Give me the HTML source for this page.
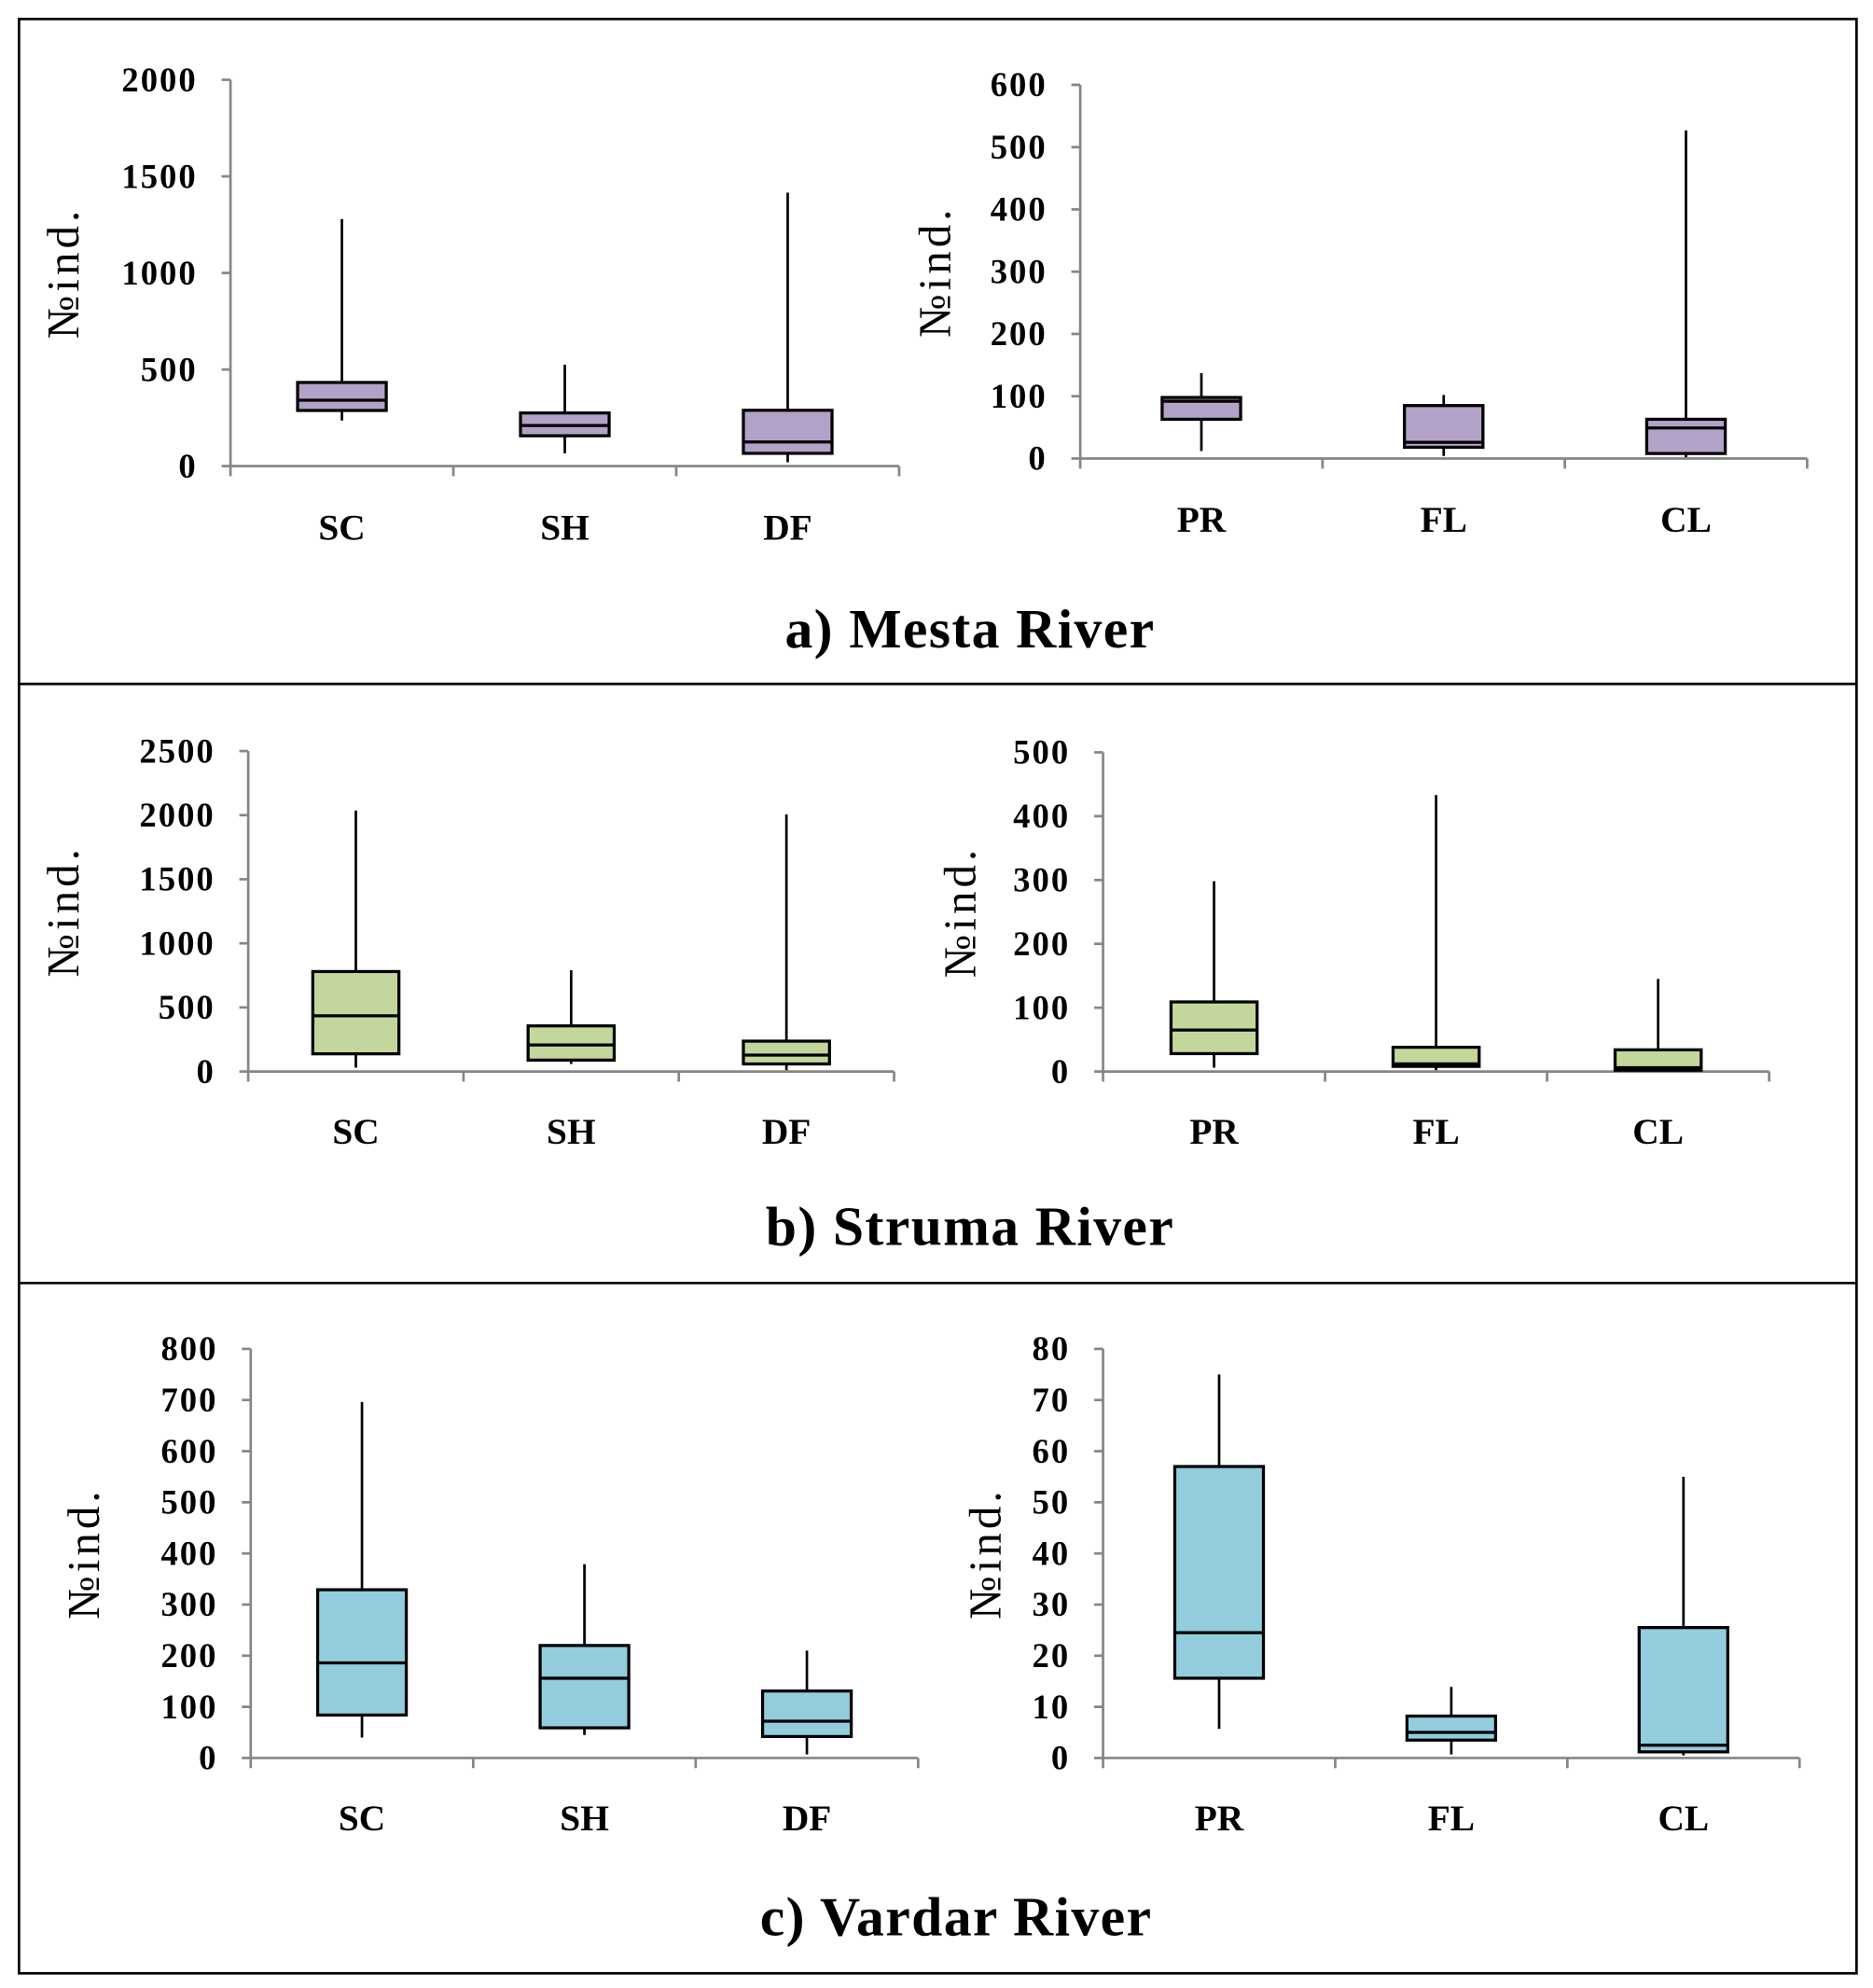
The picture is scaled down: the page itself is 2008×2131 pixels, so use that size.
<!DOCTYPE html>
<html><head><meta charset="utf-8"><style>
html,body{margin:0;padding:0;background:#fff}
svg{display:block}
text{font-family:"Liberation Serif",serif}
</style></head><body>
<svg id="fig" width="2008" height="2131" viewBox="0 0 1479 1569.6" xmlns="http://www.w3.org/2000/svg">
<rect x="15" y="15" width="1451" height="1543" fill="#fff" stroke="#000" stroke-width="2"/>
<line x1="15" y1="540" x2="1466" y2="540" stroke="#000" stroke-width="2"/>
<line x1="15" y1="1013" x2="1466" y2="1013" stroke="#000" stroke-width="2"/>
<text x="766" y="511" text-anchor="middle" font-size="44" font-weight="bold" letter-spacing="1">a) Mesta River</text>
<text x="766" y="983" text-anchor="middle" font-size="44" font-weight="bold" letter-spacing="1">b) Struma River</text>
<text x="755" y="1528" text-anchor="middle" font-size="44" font-weight="bold" letter-spacing="1">c) Vardar River</text>
<g id="charts"></g>
</svg>
<script>
const catsHabitat = ["SC","SH","DF"];
const catsFlow = ["PR","FL","CL"];
// [min, q1, median, q3, max]
const mestaHabitat = [[236,288,341,433,1279],[66,157,210,275,525],[20,66,125,289,1416]];
const mestaFlow = [[12,63,92,98,137],[4,18,26,85,102],[2,8,49,63,527]];
const strumaHabitat = [[30,138,435,780,2036],[59,89,207,356,790],[10,59,128,237,2006]];
const strumaFlow = [[6,28,65,109,298],[2,8,12,38,433],[0,2,6,34,145]];
const vardarHabitat = [[40,84,186,329,696],[45,59,156,220,379],[7,42,72,131,210]];
const vardarFlow = [[5.7,15.6,24.5,57,75],[0.7,3.5,5,8.2,13.9],[0.5,1.2,2.5,25.5,55]];
const ticksMestaH = [0,500,1000,1500,2000];
const ticksMestaF = [0,100,200,300,400,500,600];
const ticksStrumaH = [0,500,1000,1500,2000,2500];
const ticksStrumaF = [0,100,200,300,400,500];
const ticksVardarH = [0,100,200,300,400,500,600,700,800];
const ticksVardarF = [0,10,20,30,40,50,60,70,80];

const NS="http://www.w3.org/2000/svg";
const root=document.getElementById('charts');
function mk(tag,attrs,parent){const e=document.createElementNS(NS,tag);for(const k in attrs)e.setAttribute(k,attrs[k]);(parent||root).appendChild(e);return e;}

function panel(name,cfg,cats,data,ticks,color){
  const g=mk('g',{});
  
  
  const tmax=ticks[ticks.length-1];
  const y=v=>cfg.y0-(v/tmax)*(cfg.y0-cfg.yTop);
  const xw=(cfg.x1-cfg.x0)/cats.length;
  const xc=i=>cfg.x0+xw*(i+0.5);
  const ax=mk('line',{x1:cfg.x0,y1:cfg.yTop,x2:cfg.x0,y2:cfg.y0,stroke:'#868686','stroke-width':2},g);
  
  
  const xa=mk('line',{x1:cfg.x0,y1:cfg.y0,x2:cfg.x1,y2:cfg.y0,stroke:'#868686','stroke-width':2},g);
  
  
  ticks.forEach(t=>{
    mk('line',{x1:cfg.x0-7,y1:y(t),x2:cfg.x0,y2:y(t),stroke:'#868686','stroke-width':2},g);
    const tl=mk('text',{x:cfg.x0-26,y:y(t)+9,'text-anchor':'end','font-size':27,'font-weight':'bold','letter-spacing':1.5},g);
    tl.textContent=t;
    
    
  });
  for(let i=0;i<=cats.length;i++){
    mk('line',{x1:cfg.x0+xw*i,y1:cfg.y0,x2:cfg.x0+xw*i,y2:cfg.y0+8,stroke:'#868686','stroke-width':2},g);
  }
  const yl=mk('text',{transform:`translate(${cfg.ylx},${(cfg.yTop+cfg.y0)/2}) rotate(-90)`,'text-anchor':'middle','font-size':36,'letter-spacing':3},g);
  yl.textContent='№ind.';
  
  
  cats.forEach((c,i)=>{
    const d=data[i],cx=xc(i),bw=cfg.bw;
    const lb=mk('text',{x:cx,y:cfg.labY,'text-anchor':'middle','font-size':29,'font-weight':'bold'},g);
    lb.textContent=c;
    
    
    const w1=mk('line',{x1:cx,y1:y(d[4]),x2:cx,y2:y(d[3]),stroke:'#000','stroke-width':2},g);
    
    
    const w2=mk('line',{x1:cx,y1:y(d[1]),x2:cx,y2:y(d[0]),stroke:'#000','stroke-width':2},g);
    
    
    const b=mk('rect',{x:cx-bw/2,y:y(d[3]),width:bw,height:Math.max(1,y(d[1])-y(d[3])),fill:color,stroke:'#000','stroke-width':2.4},g);
    
    
    const m=mk('line',{x1:cx-bw/2,y1:y(d[2]),x2:cx+bw/2,y2:y(d[2]),stroke:'#000','stroke-width':2.4},g);
    
    
  });
}
const P='#b3a2c7',G='#c3d69b',B='#93cddd';
panel('mesta-habitat-chart',{x0:182,x1:710,y0:368,yTop:63,ylx:62,labY:426,bw:70},catsHabitat,mestaHabitat,ticksMestaH,P);
panel('mesta-flow-chart',{x0:853,x1:1427,y0:362,yTop:67,ylx:750,labY:420,bw:62},catsFlow,mestaFlow,ticksMestaF,P);
panel('struma-habitat-chart',{x0:196,x1:706,y0:846,yTop:593,ylx:62,labY:903,bw:68},catsHabitat,strumaHabitat,ticksStrumaH,G);
panel('struma-flow-chart',{x0:871,x1:1397,y0:846,yTop:594,ylx:770,labY:903,bw:68},catsFlow,strumaFlow,ticksStrumaF,G);
panel('vardar-habitat-chart',{x0:198,x1:725,y0:1388,yTop:1065,ylx:78,labY:1445,bw:70},catsHabitat,vardarHabitat,ticksVardarH,B);
panel('vardar-flow-chart',{x0:871,x1:1421,y0:1388,yTop:1065,ylx:790,labY:1445,bw:70},catsFlow,vardarFlow,ticksVardarF,B);
</script>
</body></html>
